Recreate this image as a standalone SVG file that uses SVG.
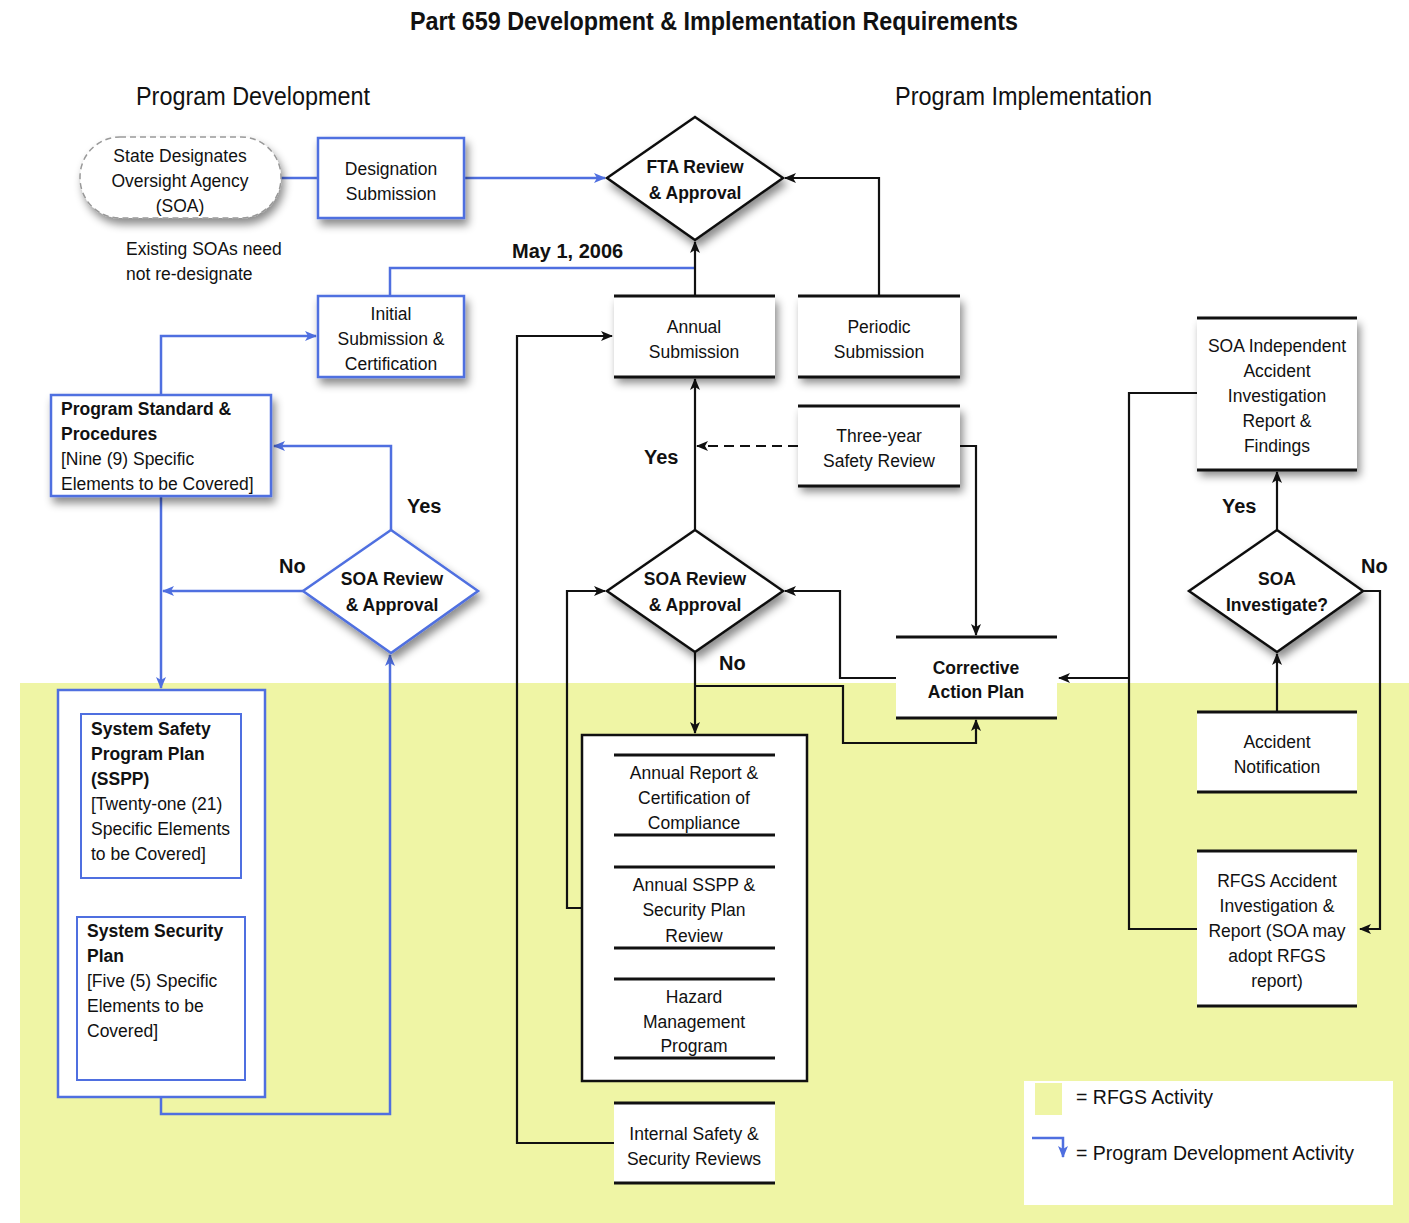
<svg xmlns="http://www.w3.org/2000/svg" width="1409" height="1223" viewBox="0 0 1409 1223">
<style>
text{font-family:"Liberation Sans",Arial,sans-serif;font-size:17.5px;fill:#111}
.c{text-anchor:middle}
.b{font-weight:bold}
.h{font-size:25px}
.lab{font-size:20px;font-weight:bold}
.blue{fill:#fff;stroke:#4f6fe0;stroke-width:2.5}
.bx{fill:#fff}
.bar{stroke:#111;stroke-width:3}
.dia{fill:#fff;stroke:#111;stroke-width:2.5}
.bdia{fill:#fff;stroke:#4f6fe0;stroke-width:2.5}
.k{fill:none;stroke:#111;stroke-width:2.2}
.bl{fill:none;stroke:#4f6fe0;stroke-width:2.5}
</style>
<defs>
<filter id="sh" x="-20%" y="-20%" width="150%" height="160%">
<feDropShadow dx="3" dy="6" stdDeviation="4" flood-color="#000" flood-opacity="0.45"/>
</filter>
<marker id="ak" viewBox="0 0 12 10" refX="11" refY="5" markerWidth="12" markerHeight="10" markerUnits="userSpaceOnUse" orient="auto">
<path d="M0,0 L12,5 L0,10 L3,5 z" fill="#111"/>
</marker>
<marker id="ab" viewBox="0 0 12 10" refX="11" refY="5" markerWidth="12" markerHeight="10" markerUnits="userSpaceOnUse" orient="auto">
<path d="M0,0 L12,5 L0,10 L3,5 z" fill="#4f6fe0"/>
</marker>
</defs>
<rect width="1409" height="1223" fill="#fff"/>
<rect x="20" y="683" width="1389" height="540" fill="#eff5a5"/>

<g id="titles">
<text x="714" y="30" class="c b h" textLength="608" lengthAdjust="spacingAndGlyphs">Part 659 Development &amp; Implementation Requirements</text>
<text x="136" y="105" class="h" textLength="234" lengthAdjust="spacingAndGlyphs">Program Development</text>
<text x="895" y="105" class="h" textLength="257" lengthAdjust="spacingAndGlyphs">Program Implementation</text>
<text x="126" y="255">Existing SOAs need</text>
<text x="126" y="280">not re-designate</text>
</g>

<g id="connectors">
<path class="bl" d="M281,178 H318"/>
<path class="bl" d="M464,178 H605" marker-end="url(#ab)"/>
<path class="bl" d="M390,296 V268 H695"/>
<path class="k" d="M695,296 V242" marker-end="url(#ak)"/>
<path class="k" d="M879,296 V178 H785" marker-end="url(#ak)"/>
<path class="bl" d="M161,395 V336 H316" marker-end="url(#ab)"/>
<path class="bl" d="M391,530 V446 H274" marker-end="url(#ab)"/>
<path class="bl" d="M303,591 H163" marker-end="url(#ab)"/>
<path class="bl" d="M161,496 V688" marker-end="url(#ab)"/>
<path class="bl" d="M161,1097 V1114 H390 V655" marker-end="url(#ab)"/>
<path class="k" d="M695,530 V379" marker-end="url(#ak)"/>
<path class="k" d="M798,446 H697" stroke-dasharray="10,6" marker-end="url(#ak)"/>
<path class="k" d="M960,446 H976 V635" marker-end="url(#ak)"/>
<path class="k" d="M896,678 H840 V591 H785" marker-end="url(#ak)"/>
<path class="k" d="M695,652 V733" marker-end="url(#ak)"/>
<path class="k" d="M695,686 H843 V743 H976 V720" marker-end="url(#ak)"/>
<path class="k" d="M582,908 H567 V591 H605" marker-end="url(#ak)"/>
<path class="k" d="M614,1143 H517 V336 H612" marker-end="url(#ak)"/>
<path class="k" d="M1197,393 H1129 V929 H1197"/>
<path class="k" d="M1129,678 H1059" marker-end="url(#ak)"/>
<path class="k" d="M1277,530 V472" marker-end="url(#ak)"/>
<path class="k" d="M1363,591 H1380 V929 H1360" marker-end="url(#ak)"/>
<path class="k" d="M1277,712 V654" marker-end="url(#ak)"/>
</g>

<g id="state-designates">
<rect x="80" y="137" width="201" height="81" rx="40" fill="#fff" stroke="#999" stroke-width="1.5" stroke-dasharray="6,4" filter="url(#sh)"/>
<text x="180" y="162" class="c">State Designates</text>
<text x="180" y="187" class="c">Oversight Agency</text>
<text x="180" y="212" class="c">(SOA)</text>
</g>

<g id="designation-submission">
<rect x="318" y="138" width="146" height="80" class="blue" filter="url(#sh)"/>
<text x="391" y="175" class="c">Designation</text>
<text x="391" y="200" class="c">Submission</text>
</g>

<g id="fta-review">
<polygon points="695,117 783,178 695,240 607,178" class="dia" filter="url(#sh)"/>
<text x="695" y="173" class="c b">FTA Review</text>
<text x="695" y="199" class="c b">&amp; Approval</text>
</g>

<g id="may-label">
<text x="512" y="258" class="lab">May 1, 2006</text>
</g>

<g id="initial-submission">
<rect x="318" y="296" width="146" height="81" class="blue" filter="url(#sh)"/>
<text x="391" y="320" class="c">Initial</text>
<text x="391" y="345" class="c">Submission &amp;</text>
<text x="391" y="370" class="c">Certification</text>
</g>

<g id="annual-submission">
<rect x="614" y="296" width="161" height="81" class="bx" filter="url(#sh)"/>
<path class="bar" d="M614,296 H775 M614,377 H775"/>
<text x="694" y="333" class="c">Annual</text>
<text x="694" y="358" class="c">Submission</text>
</g>

<g id="periodic-submission">
<rect x="798" y="296" width="162" height="81" class="bx" filter="url(#sh)"/>
<path class="bar" d="M798,296 H960 M798,377 H960"/>
<text x="879" y="333" class="c">Periodic</text>
<text x="879" y="358" class="c">Submission</text>
</g>

<g id="program-standard">
<rect x="51" y="395" width="220" height="101" class="blue" filter="url(#sh)"/>
<text x="61" y="415" class="b">Program Standard &amp;</text>
<text x="61" y="440" class="b">Procedures</text>
<text x="61" y="465">[Nine (9) Specific</text>
<text x="61" y="490">Elements to be Covered]</text>
</g>

<g id="soa-review-left">
<polygon points="391,530 478,591 391,653 303,591" class="bdia" filter="url(#sh)"/>
<text x="392" y="585" class="c b">SOA Review</text>
<text x="392" y="611" class="c b">&amp; Approval</text>
<text x="407" y="513" class="lab">Yes</text>
<text x="279" y="573" class="lab">No</text>
</g>

<g id="sspp-group">
<rect x="58" y="690" width="207" height="407" class="blue"/>
<rect x="81" y="714" width="160" height="164" fill="#fff" stroke="#4f6fe0" stroke-width="2"/>
<text x="91" y="735" class="b">System Safety</text>
<text x="91" y="760" class="b">Program Plan</text>
<text x="91" y="785" class="b">(SSPP)</text>
<text x="91" y="810">[Twenty-one (21)</text>
<text x="91" y="835">Specific Elements</text>
<text x="91" y="860">to be Covered]</text>
<rect x="77" y="917" width="168" height="163" fill="#fff" stroke="#4f6fe0" stroke-width="2"/>
<text x="87" y="937" class="b">System Security</text>
<text x="87" y="962" class="b">Plan</text>
<text x="87" y="987">[Five (5) Specific</text>
<text x="87" y="1012">Elements to be</text>
<text x="87" y="1037">Covered]</text>
</g>

<g id="soa-review-mid">
<polygon points="695,530 783,591 695,652 607,591" class="dia" filter="url(#sh)"/>
<text x="695" y="585" class="c b">SOA Review</text>
<text x="695" y="611" class="c b">&amp; Approval</text>
<text x="644" y="464" class="lab">Yes</text>
<text x="719" y="670" class="lab">No</text>
</g>

<g id="three-year">
<rect x="798" y="406" width="162" height="80" class="bx" filter="url(#sh)"/>
<path class="bar" d="M798,406 H960 M798,486 H960"/>
<text x="879" y="442" class="c">Three-year</text>
<text x="879" y="467" class="c">Safety Review</text>
</g>

<g id="corrective-action">
<rect x="896" y="637" width="161" height="81" class="bx"/>
<path class="bar" d="M896,637 H1057 M896,718 H1057"/>
<text x="976" y="674" class="c b">Corrective</text>
<text x="976" y="698" class="c b">Action Plan</text>
</g>

<g id="annual-report-group">
<rect x="582" y="735" width="225" height="346" fill="#fff" stroke="#111" stroke-width="2.5"/>
<path class="bar" stroke-width="2.5" d="M614,755 H775 M614,835 H775 M614,867 H775 M614,948 H775 M614,979 H775 M614,1058 H775"/>
<text x="694" y="779" class="c">Annual Report &amp;</text>
<text x="694" y="804" class="c">Certification of</text>
<text x="694" y="829" class="c">Compliance</text>
<text x="694" y="891" class="c">Annual SSPP &amp;</text>
<text x="694" y="916" class="c">Security Plan</text>
<text x="694" y="942" class="c">Review</text>
<text x="694" y="1003" class="c">Hazard</text>
<text x="694" y="1028" class="c">Management</text>
<text x="694" y="1052" class="c">Program</text>
</g>

<g id="internal-safety">
<rect x="614" y="1103" width="161" height="80" class="bx"/>
<path class="bar" d="M614,1103 H775 M614,1183 H775"/>
<text x="694" y="1140" class="c">Internal Safety &amp;</text>
<text x="694" y="1165" class="c">Security Reviews</text>
</g>

<g id="soa-independent">
<rect x="1197" y="318" width="160" height="152" class="bx" filter="url(#sh)"/>
<path class="bar" d="M1197,318 H1357 M1197,470 H1357"/>
<text x="1277" y="352" class="c">SOA Independent</text>
<text x="1277" y="377" class="c">Accident</text>
<text x="1277" y="402" class="c">Investigation</text>
<text x="1277" y="427" class="c">Report &amp;</text>
<text x="1277" y="452" class="c">Findings</text>
</g>

<g id="soa-investigate">
<polygon points="1277,530 1363,591 1277,652 1189,591" class="dia" filter="url(#sh)"/>
<text x="1277" y="585" class="c b">SOA</text>
<text x="1277" y="611" class="c b">Investigate?</text>
<text x="1222" y="513" class="lab">Yes</text>
<text x="1361" y="573" class="lab">No</text>
</g>

<g id="accident-notification">
<rect x="1197" y="712" width="160" height="80" class="bx"/>
<path class="bar" d="M1197,712 H1357 M1197,792 H1357"/>
<text x="1277" y="748" class="c">Accident</text>
<text x="1277" y="773" class="c">Notification</text>
</g>

<g id="rfgs-accident">
<rect x="1197" y="851" width="160" height="155" class="bx"/>
<path class="bar" d="M1197,851 H1357 M1197,1006 H1357"/>
<text x="1277" y="887" class="c">RFGS Accident</text>
<text x="1277" y="912" class="c">Investigation &amp;</text>
<text x="1277" y="937" class="c">Report (SOA may</text>
<text x="1277" y="962" class="c">adopt RFGS</text>
<text x="1277" y="987" class="c">report)</text>
</g>

<g id="legend">
<rect x="1024" y="1081" width="369" height="124" fill="#fff"/>
<rect x="1035" y="1083" width="27" height="32" fill="#eff5a5"/>
<text x="1076" y="1104" style="font-size:19.5px">= RFGS Activity</text>
<path class="bl" d="M1032,1138 H1063 V1157" marker-end="url(#ab)"/>
<text x="1076" y="1160" style="font-size:19.5px">= Program Development Activity</text>
</g>
</svg>
